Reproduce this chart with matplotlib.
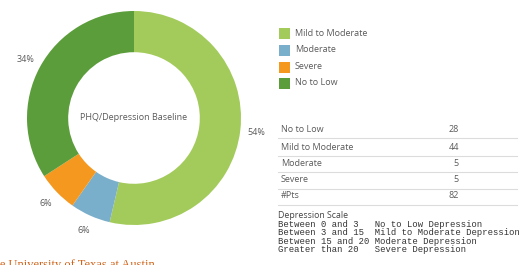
import matplotlib
matplotlib.use("Agg")
import matplotlib.pyplot as plt
from matplotlib.patches import Rectangle
from matplotlib.lines import Line2D

# ---- data ----
categories = ["Mild to Moderate", "Moderate", "Severe", "No to Low"]
counts = [44, 5, 5, 28]
colors = ["#a3cb5b", "#7aafcb", "#f5981f", "#5b9d3b"]
legend_order = ["Mild to Moderate", "Moderate", "Severe", "No to Low"]
table_labels = ["No to Low", "Mild to Moderate", "Moderate", "Severe", "#Pts"]
table_values = [28, 44, 5, 5, 82]
scale_title = "Depression Scale"
scale_lines = [
    "Between 0 and 3   No to Low Depression",
    "Between 3 and 15  Mild to Moderate Depression",
    "Between 15 and 20 Moderate Depression",
    "Greater than 20   Severe Depression",
]
center_text = "PHQ/Depression Baseline"
footer_text = "The University of Texas at Austin"

W, H = 521, 265
fig = plt.figure(figsize=(W / 100, H / 100), dpi=100)
FONT = "Open Sans"
GRAY = "#5a5a5a"

def px(x, y):
    return x / W, 1 - y / H

# donut
cx, cy, r = 134, 118, 107
ax = fig.add_axes([(cx - r) / W, (H - cy - r) / H, 2 * r / W, 2 * r / H])
wedges, _, autotexts = ax.pie(
    counts, colors=colors, startangle=90, counterclock=False,
    wedgeprops=dict(width=0.385, edgecolor="none"),
    autopct="%1.0f%%", pctdistance=1.15,
    textprops=dict(fontsize=6.5, color=GRAY, family=FONT),
)
ax.set_xlim(-1, 1)
ax.set_ylim(-1, 1)
ax.set_aspect("equal")
ax.axis("off")
ax.text(0, 0, center_text, ha="center", va="center", fontsize=6.5,
        color=GRAY, family=FONT)

# legend
color_map = dict(zip(categories, colors))
leg_y = [33, 50, 67, 83]
for name, y in zip(legend_order, leg_y):
    x0, y0 = px(279, y + 5.5)
    fig.patches.append(Rectangle((x0, y0), 11 / W, 11 / H,
                                 transform=fig.transFigure, facecolor=color_map[name],
                                 edgecolor="none"))
    fig.text(*px(295, y), name, ha="left", va="center", fontsize=6.5,
             color=GRAY, family=FONT)

# table
row_y = [129, 147, 163, 180, 196]
for lab, val, y in zip(table_labels, table_values, row_y):
    fig.text(*px(281, y), lab, ha="left", va="center", fontsize=6.5,
             color=GRAY, family=FONT)
    fig.text(*px(459, y), str(val), ha="right", va="center", fontsize=6.5,
             color=GRAY, family=FONT)
    ly = 1 - (y + 9) / H
    fig.add_artist(Line2D([278 / W, 517 / W], [ly, ly], transform=fig.transFigure,
                          color="#dcdcdc", lw=0.8))

# depression scale
fig.text(*px(278, 216), scale_title, ha="left", va="center", fontsize=6.3,
         color="#444444", family=FONT)
for i, line in enumerate(scale_lines):
    fig.text(*px(278, 224.5 + 8.3 * i), line, ha="left", va="center",
             fontsize=6.4, color="#333333", family="Liberation Mono")

# footer (clipped, as in the reference)
fig.text(*px(-14, 265), footer_text, ha="left", va="center", fontsize=9,
         color="#d0641a", family="Liberation Serif")

fig.savefig("out.png", dpi=100)
